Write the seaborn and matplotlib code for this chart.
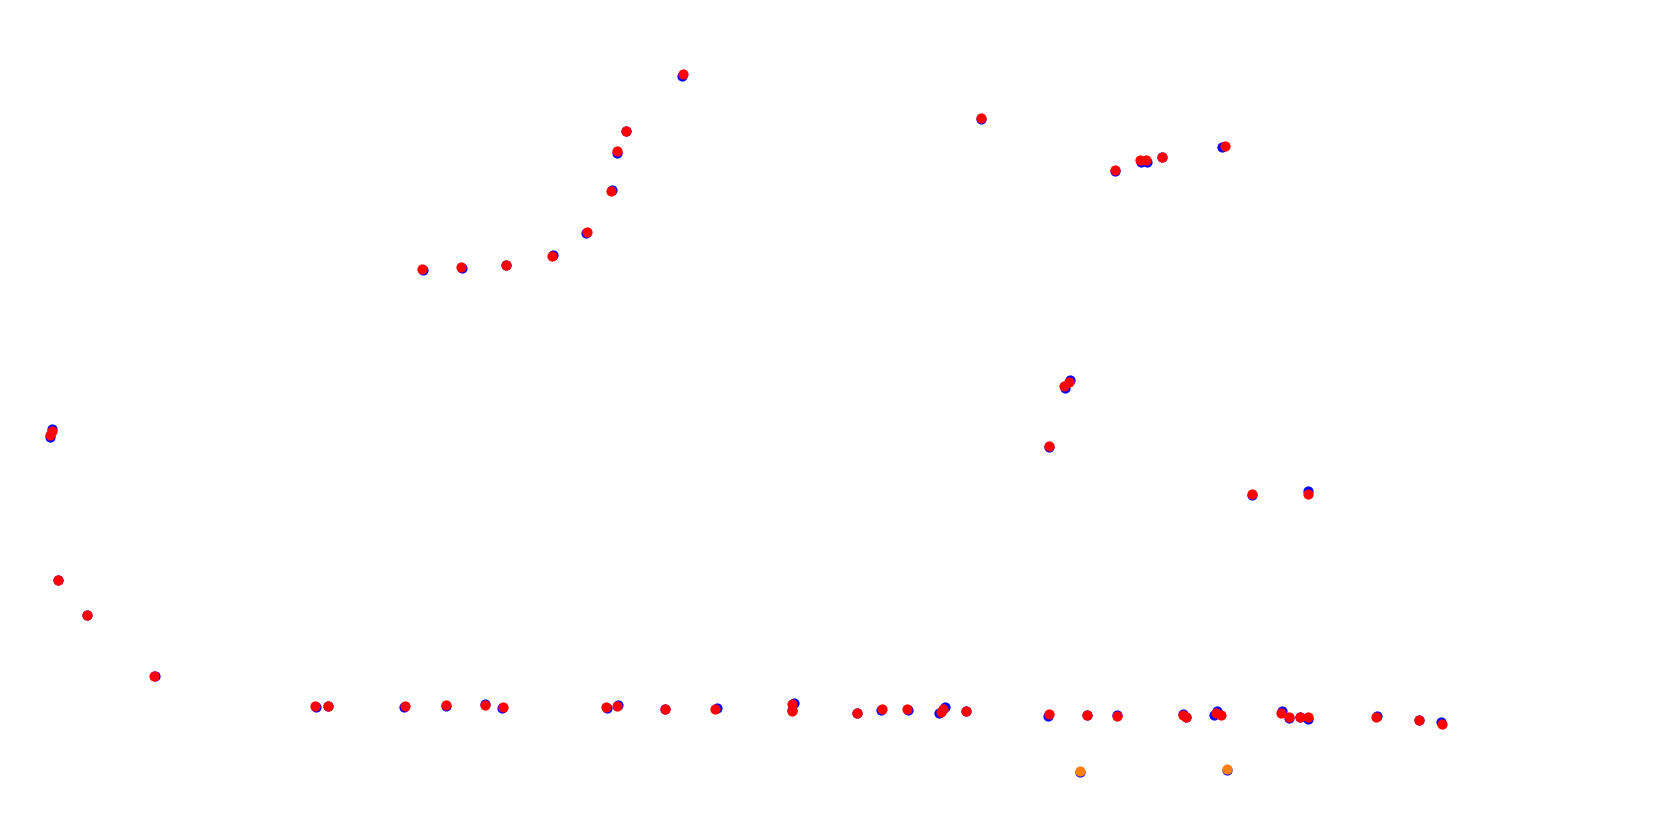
import matplotlib
matplotlib.use("Agg")
import matplotlib.pyplot as plt
import seaborn as sns
import pandas as pd

# Point positions (pixel-like coordinate system, y grows downward)
blue_x = [49.5, 52, 58, 87, 155, 315.5, 328, 404, 445.5, 485, 502, 606.5, 617.5, 665, 716.5,
          794, 791.5, 857, 881, 907.5, 945, 939, 966, 1048, 1087, 1117, 1182.5, 1186, 1216.5,
          1214, 1281.5, 1288.5, 1299.5, 1307.5, 1377, 1419, 1441, 423, 462, 505.5, 553, 586,
          612, 617, 626, 682, 981, 1115, 1141, 1147, 1162, 1222, 1064.5, 1070, 1049, 1251.5,
          1308, 1080, 1227]
blue_y = [437, 429, 580, 615, 676, 706.5, 706, 707, 706, 704, 707.5, 707.5, 705, 708.5, 708,
          702.5, 710, 713, 710, 709.5, 707, 713, 710.5, 715.5, 714.5, 714.5, 713.5, 717, 710.5,
          714.5, 710.5, 717.5, 716.5, 719, 715.5, 719.5, 722, 270, 267.5, 264.5, 254.5, 233,
          190, 152.5, 131, 76, 118.5, 171, 161.5, 161.5, 156.5, 146.5, 388, 380, 446.5, 494.5,
          491, 771.5, 770]

red_x = [50, 52, 58, 87, 154, 315, 328, 405, 446, 485, 503, 606, 617, 665, 715, 792, 792, 857,
         882, 907, 943, 941, 966, 1049, 1087, 1116.5, 1182.5, 1186, 1216, 1221, 1281, 1289, 1300,
         1308, 1376, 1419, 1441.5, 422, 461, 505.5, 552, 587, 611, 617, 626, 682.5, 981, 1115,
         1140, 1146, 1162, 1225, 1064, 1069, 1048.5, 1251.5, 1308]
red_y = [435, 431, 580, 615, 676, 706, 706, 706, 705, 705, 707, 706.5, 706, 708.5, 709, 704,
         711, 713, 708.5, 708.5, 709, 711.5, 710.5, 714, 714.5, 715.5, 714.5, 716.5, 712.5,
         714.5, 712.5, 716.5, 717, 717, 717, 719.5, 723.5, 269, 266.5, 264.5, 255.5, 232, 191,
         151, 131, 74, 117.5, 170, 160, 160, 157, 145.5, 386, 382, 445.5, 493.5, 493.5]

orange_x = [1080, 1227]
orange_y = [770.5, 769]

blue_df = pd.DataFrame({"x": blue_x, "y": blue_y})
red_df = pd.DataFrame({"x": red_x, "y": red_y})
orange_df = pd.DataFrame({"x": orange_x, "y": orange_y})

sns.set_theme(style="white")
fig = plt.figure(figsize=(16.61, 8.18), dpi=100)
ax = fig.add_axes([0, 0, 1, 1])

ms = 54
sns.scatterplot(data=blue_df, x="x", y="y", color="#0000ff", s=ms, linewidth=0, ax=ax, zorder=2)
sns.scatterplot(data=orange_df, x="x", y="y", color="#ff7f0e", s=ms, linewidth=0, ax=ax, zorder=3)
sns.scatterplot(data=red_df, x="x", y="y", color="#ff0000", s=ms, linewidth=0, ax=ax, zorder=4)

ax.set_xlim(0, 1661)
ax.set_ylim(818, 0)
ax.set_axis_off()
fig.savefig("out.png", dpi=100, facecolor="white")
